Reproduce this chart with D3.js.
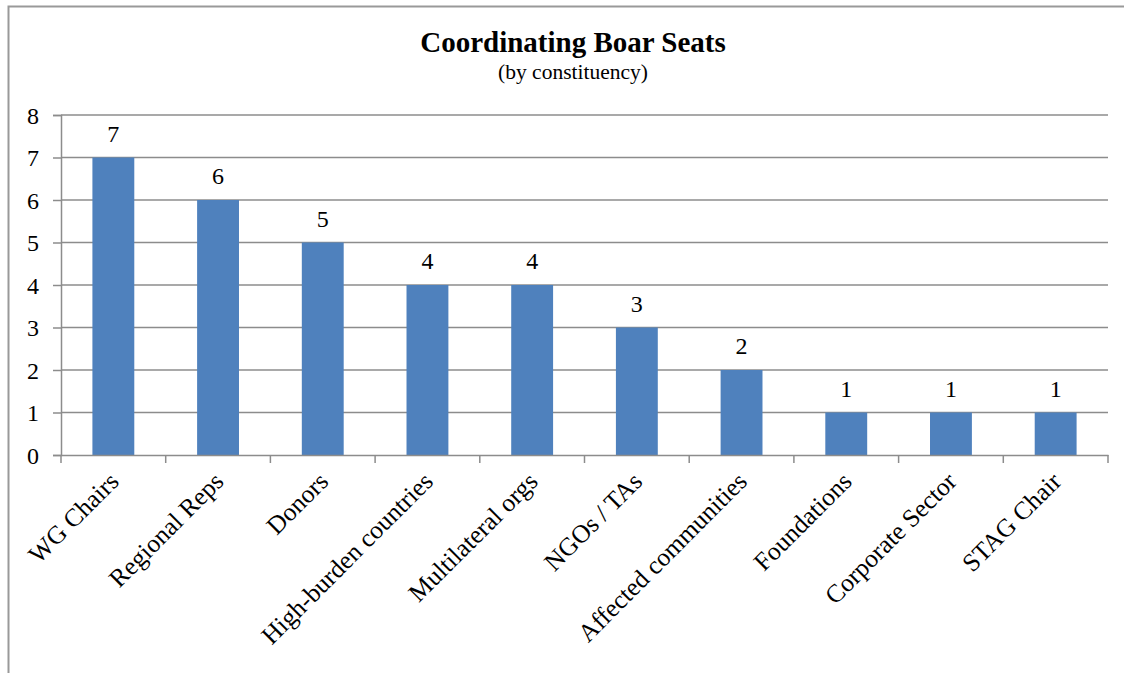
<!DOCTYPE html>
<html lang="en">
  <head>
    <meta charset="UTF-8" />
    <script src="https://d3js.org/d3.v7.min.js"></script>
    <title>Coordinating Boar Seats</title>
    <style>
      body { margin: 0; background: #fff; }
    </style>
  </head>
  <body>
    <svg id="chart" width="1124" height="673"></svg>
  </body>
  <script>
    // data
    var categories = ["WG Chairs", "Regional Reps", "Donors", "High-burden countries",
      "Multilateral orgs", "NGOs / TAs", "Affected communities", "Foundations",
      "Corporate Sector", "STAG Chair"];
    var seats = [7, 6, 5, 4, 4, 3, 2, 1, 1, 1];
    var yTicks = [0, 1, 2, 3, 4, 5, 6, 7, 8];

    var svg = d3.select("#chart");
    var font = "'Liberation Serif', serif";
    var grey = "#8c8c8c";

    // outer frame
    svg.append("rect")
      .attr("x", 8.5).attr("y", 6.5)
      .attr("width", 1130).attr("height", 700)
      .attr("fill", "#fff")
      .attr("stroke", "#999").attr("stroke-width", 2);

    var plotLeft = 61, plotRight = 1108, plotTop = 115, plotBottom = 455;

    var x = d3.scaleBand().domain(categories).range([plotLeft, plotRight]).paddingInner(0.6).paddingOuter(0.3);
    var xTick = d3.scaleBand().domain(categories).range([plotLeft, plotRight]);
    var y = d3.scaleLinear().domain([0, 8]).range([plotBottom, plotTop]);

    // gridlines
    svg.append("g")
      .selectAll("line")
      .data(yTicks.filter(d => d > 0))
      .enter()
      .append("line")
      .attr("x1", plotLeft).attr("x2", plotRight)
      .attr("y1", d => y(d)).attr("y2", d => y(d))
      .attr("stroke", grey).attr("stroke-width", 1.5);

    // bars
    svg.append("g")
      .selectAll("rect")
      .data(seats)
      .enter()
      .append("rect")
      .attr("x", (d, i) => x(categories[i]))
      .attr("y", d => y(d))
      .attr("width", x.bandwidth())
      .attr("height", d => y(0) - y(d))
      .attr("fill", "#4f81bd");

    // value labels
    svg.append("g")
      .selectAll("text")
      .data(seats)
      .enter()
      .append("text")
      .attr("x", (d, i) => x(categories[i]) + x.bandwidth() / 2)
      .attr("y", d => y(d) - 16)
      .attr("text-anchor", "middle")
      .style("font-family", font)
      .style("font-size", "24px")
      .text(d => d);

    // y axis
    var yAxis = svg.append("g")
      .attr("transform", "translate(" + plotLeft + ",0)")
      .call(d3.axisLeft(y).tickValues(yTicks).tickSize(8).tickPadding(14));
    yAxis.select(".domain").attr("stroke", grey).attr("stroke-width", 1.5);
    yAxis.selectAll(".tick line").attr("stroke", grey).attr("stroke-width", 1.5);
    yAxis.selectAll("text")
      .style("font-family", font).style("font-size", "24px").attr("fill", "#000")
      .attr("dy", "0.35em");

    // x axis
    var xAxis = svg.append("g")
      .attr("transform", "translate(0," + plotBottom + ")")
      .call(d3.axisBottom(xTick).tickSize(0).tickFormat(""));
    xAxis.select(".domain").attr("stroke", grey).attr("stroke-width", 1.5);
    xAxis.selectAll(".tick").remove();
    xAxis.selectAll("line.sep")
      .data(d3.range(categories.length + 1))
      .enter()
      .append("line")
      .attr("class", "sep")
      .attr("x1", i => plotLeft + i * xTick.step())
      .attr("x2", i => plotLeft + i * xTick.step())
      .attr("y1", 0).attr("y2", 8)
      .attr("stroke", grey).attr("stroke-width", 1.5);

    // category labels
    svg.append("g")
      .selectAll("text")
      .data(categories)
      .enter()
      .append("text")
      .attr("transform", d => "translate(" + (xTick(d) + xTick.bandwidth() / 2 + 7) + "," + (plotBottom + 28) + ") rotate(-45)")
      .attr("text-anchor", "end")
      .style("font-family", font)
      .style("font-size", "25.5px")
      .text(d => d);

    // title
    svg.append("text")
      .attr("x", 573).attr("y", 52)
      .attr("text-anchor", "middle")
      .style("font-family", font)
      .style("font-size", "29px")
      .style("font-weight", "bold")
      .text("Coordinating Boar Seats");

    svg.append("text")
      .attr("x", 573).attr("y", 79)
      .attr("text-anchor", "middle")
      .style("font-family", font)
      .style("font-size", "21.5px")
      .text("(by constituency)");
  </script>
</html>
